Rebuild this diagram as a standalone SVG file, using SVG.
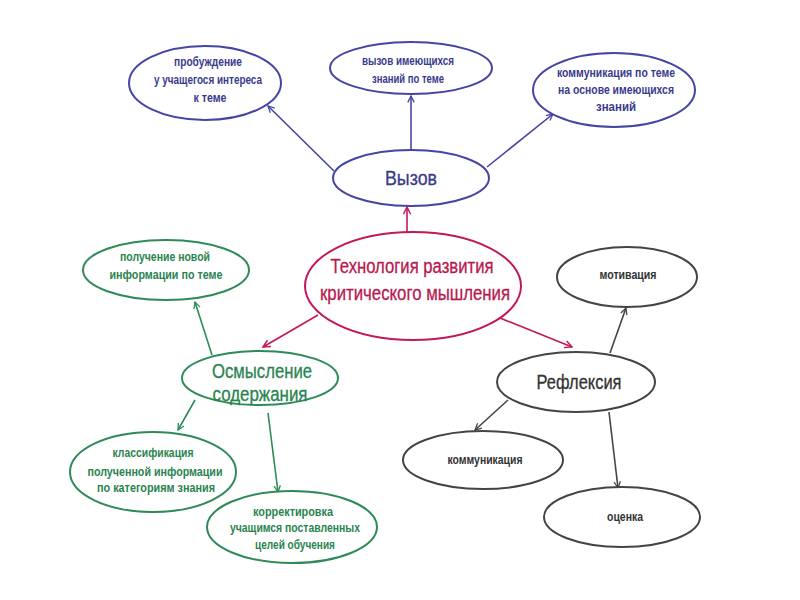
<svg xmlns="http://www.w3.org/2000/svg" width="800" height="600" viewBox="0 0 800 600">
<style>
  text { font-family: "Liberation Sans Narrow", "Liberation Sans", Arial, sans-serif; text-anchor: middle; }
  .blue { stroke: #4545a5; }
  .red { stroke: #c2185b; }
  .green { stroke: #2e8b57; }
  .gray { stroke: #444444; }
  ellipse { fill: #ffffff; stroke-width: 2; }
  .small { font-size: 12px; font-weight: bold; }
  .big { font-size: 20px; stroke-width: 0.3; }
  .tb { fill: #3a3a8c; stroke: #3a3a8c; }
  .tg { fill: #2a8450; stroke: #2a8450; }
  .tk { fill: #333333; stroke: #333333; }
  .tr { fill: #b8184f; stroke: #b8184f; }
  .small { stroke: none; }
  .conn line { stroke-width: 1.6; fill: none; }
</style>
<defs>
  <marker id="ab" viewBox="0 0 10 10" refX="9" refY="5" markerWidth="8" markerHeight="8" orient="auto" markerUnits="userSpaceOnUse">
    <path d="M1,1 L9,5 L1,9" fill="none" stroke="#4545a5" stroke-width="1.6"/>
  </marker>
  <marker id="ar" viewBox="0 0 10 10" refX="9" refY="5" markerWidth="9" markerHeight="9" orient="auto" markerUnits="userSpaceOnUse">
    <path d="M1,1 L9,5 L1,9" fill="none" stroke="#c2185b" stroke-width="1.6"/>
  </marker>
  <marker id="ag" viewBox="0 0 10 10" refX="9" refY="5" markerWidth="8" markerHeight="8" orient="auto" markerUnits="userSpaceOnUse">
    <path d="M1,1 L9,5 L1,9" fill="none" stroke="#2e8b57" stroke-width="1.6"/>
  </marker>
  <marker id="ak" viewBox="0 0 10 10" refX="9" refY="5" markerWidth="8" markerHeight="8" orient="auto" markerUnits="userSpaceOnUse">
    <path d="M1,1 L9,5 L1,9" fill="none" stroke="#444444" stroke-width="1.6"/>
  </marker>
</defs>
<rect width="800" height="600" fill="#ffffff"/>

<g id="connectors" class="conn">
  <line class="blue" x1="334" y1="171" x2="268" y2="106" marker-end="url(#ab)"/>
  <line class="blue" x1="411" y1="150" x2="411" y2="96" marker-end="url(#ab)"/>
  <line class="blue" x1="487" y1="167" x2="553" y2="114" marker-end="url(#ab)"/>
  <line class="red" x1="407" y1="232" x2="407" y2="207" marker-end="url(#ar)"/>
  <line class="red" x1="318" y1="315" x2="263" y2="347" marker-end="url(#ar)"/>
  <line class="red" x1="500" y1="318" x2="572" y2="347" marker-end="url(#ar)"/>
  <line class="green" x1="212" y1="355" x2="195" y2="302" marker-end="url(#ag)"/>
  <line class="green" x1="195" y1="400" x2="178" y2="430" marker-end="url(#ag)"/>
  <line class="green" x1="268" y1="413" x2="278" y2="492" marker-end="url(#ag)"/>
  <line class="gray" x1="610" y1="353" x2="626" y2="308" marker-end="url(#ak)"/>
  <line class="gray" x1="508" y1="400" x2="475" y2="430" marker-end="url(#ak)"/>
  <line class="gray" x1="609" y1="412" x2="618" y2="488" marker-end="url(#ak)"/>
</g>

<g id="n-probuzhdenie">
  <ellipse class="blue" cx="205" cy="83" rx="76" ry="37"/>
  <text class="small tb" x="208" y="66" textLength="68" lengthAdjust="spacingAndGlyphs">пробуждение</text>
  <text class="small tb" x="208" y="84" textLength="108" lengthAdjust="spacingAndGlyphs">у учащегося интереса</text>
  <text class="small tb" x="210" y="102" textLength="33" lengthAdjust="spacingAndGlyphs">к теме</text>
</g>

<g id="n-vyzov-znaniy">
  <ellipse class="blue" cx="411" cy="68" rx="81" ry="26"/>
  <text class="small tb" x="408" y="65" textLength="92" lengthAdjust="spacingAndGlyphs">вызов имеющихся</text>
  <text class="small tb" x="408" y="83" textLength="72" lengthAdjust="spacingAndGlyphs">знаний по теме</text>
</g>

<g id="n-kommunikaciya-teme">
  <ellipse class="blue" cx="614" cy="90" rx="81" ry="37"/>
  <text class="small tb" x="616" y="77" textLength="118" lengthAdjust="spacingAndGlyphs">коммуникация по теме</text>
  <text class="small tb" x="616" y="94" textLength="116" lengthAdjust="spacingAndGlyphs">на основе имеющихся</text>
  <text class="small tb" x="616" y="111" textLength="40" lengthAdjust="spacingAndGlyphs">знаний</text>
</g>

<g id="n-vyzov">
  <ellipse class="blue" cx="411" cy="178" rx="78" ry="28"/>
  <text class="big tb" x="411" y="185" textLength="52" lengthAdjust="spacingAndGlyphs">Вызов</text>
</g>

<g id="n-tehnologiya">
  <ellipse class="red" cx="413" cy="286" rx="108" ry="54"/>
  <text class="big tr" x="412" y="273" textLength="163" lengthAdjust="spacingAndGlyphs">Технология развития</text>
  <text class="big tr" x="415" y="300" textLength="190" lengthAdjust="spacingAndGlyphs">критического мышления</text>
</g>

<g id="n-osmyslenie">
  <ellipse class="green" cx="260" cy="378" rx="78" ry="27"/>
  <text class="big tg" x="262" y="378" textLength="100" lengthAdjust="spacingAndGlyphs">Осмысление</text>
  <text class="big tg" x="260" y="401" textLength="95" lengthAdjust="spacingAndGlyphs">содержания</text>
</g>

<g id="n-poluchenie">
  <ellipse class="green" cx="166" cy="270" rx="83" ry="30"/>
  <text class="small tg" x="165" y="261" textLength="90" lengthAdjust="spacingAndGlyphs">получение новой</text>
  <text class="small tg" x="166" y="279" textLength="113" lengthAdjust="spacingAndGlyphs">информации по теме</text>
</g>

<g id="n-klassifikaciya">
  <ellipse class="green" cx="153" cy="472" rx="83" ry="40"/>
  <text class="small tg" x="153" y="457" textLength="81" lengthAdjust="spacingAndGlyphs">классификация</text>
  <text class="small tg" x="155" y="476" textLength="135" lengthAdjust="spacingAndGlyphs">полученной информации</text>
  <text class="small tg" x="156" y="492" textLength="118" lengthAdjust="spacingAndGlyphs">по категориям знания</text>
</g>

<g id="n-korrektirovka">
  <ellipse class="green" cx="292" cy="527" rx="85" ry="36"/>
  <text class="small tg" x="293" y="516" textLength="80" lengthAdjust="spacingAndGlyphs">корректировка</text>
  <text class="small tg" x="295" y="532" textLength="130" lengthAdjust="spacingAndGlyphs">учащимся поставленных</text>
  <text class="small tg" x="295" y="549" textLength="80" lengthAdjust="spacingAndGlyphs">целей обучения</text>
</g>

<g id="n-refleksiya">
  <ellipse class="gray" cx="576" cy="382" rx="79" ry="30"/>
  <text class="big tk" x="579" y="389" textLength="85" lengthAdjust="spacingAndGlyphs">Рефлексия</text>
</g>

<g id="n-motivaciya">
  <ellipse class="gray" cx="627" cy="277" rx="70" ry="30"/>
  <text class="small tk" x="628" y="279" textLength="57" lengthAdjust="spacingAndGlyphs">мотивация</text>
</g>

<g id="n-kommunikaciya">
  <ellipse class="gray" cx="483" cy="460" rx="80" ry="29"/>
  <text class="small tk" x="485" y="464" textLength="75" lengthAdjust="spacingAndGlyphs">коммуникация</text>
</g>

<g id="n-ocenka">
  <ellipse class="gray" cx="622" cy="517" rx="78" ry="30"/>
  <text class="small tk" x="625" y="521" textLength="36" lengthAdjust="spacingAndGlyphs">оценка</text>
</g>
</svg>
